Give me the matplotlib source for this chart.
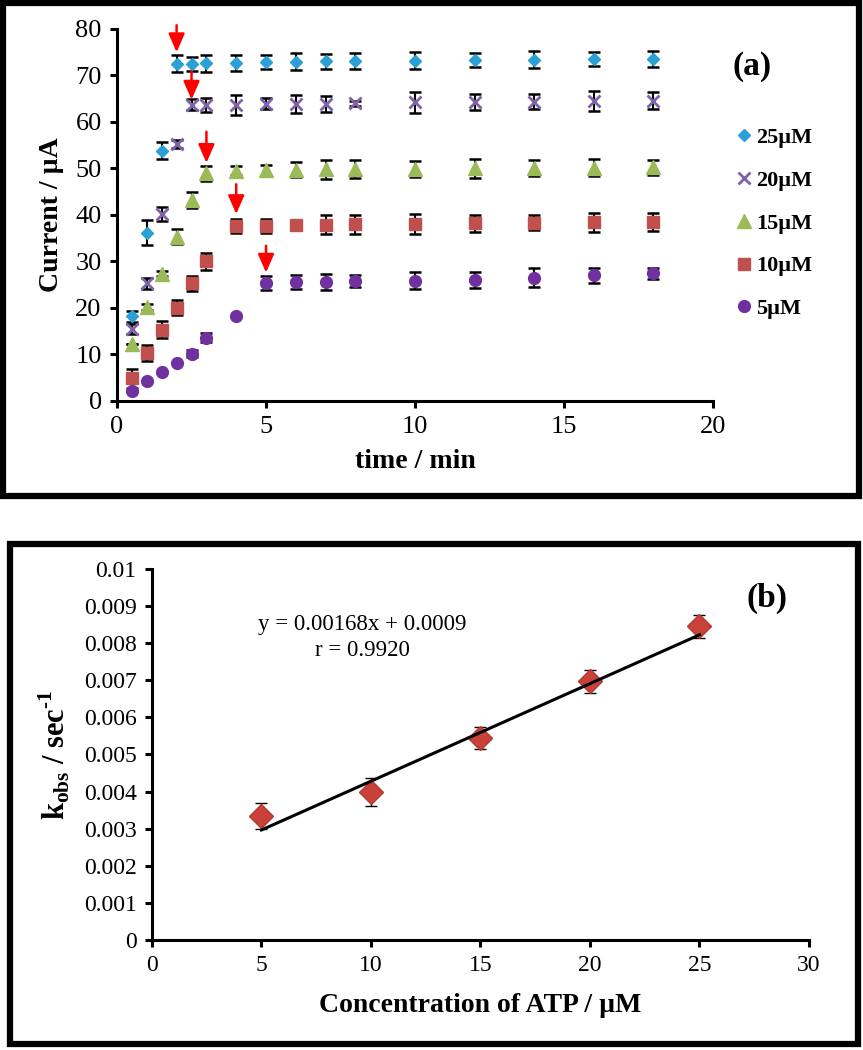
import numpy as np
import matplotlib
matplotlib.use("Agg")
import matplotlib.pyplot as plt
from matplotlib.patches import Rectangle

plt.rcParams['font.family'] = ['Liberation Serif', 'DejaVu Serif']
plt.rcParams['mathtext.fontset'] = 'custom'
plt.rcParams['mathtext.rm'] = 'Liberation Serif'
plt.rcParams['mathtext.bf'] = 'Liberation Serif:bold'

# ---- panel (a): current vs time ----
time_min = [0.5, 1, 1.5, 2, 2.5, 3, 4, 5, 6, 7, 8, 10, 12, 14, 16, 18]

cur_25 = [18.2, 36.2, 53.8, 72.5, 72.5, 72.6, 72.7, 72.9, 73.0, 73.1, 73.1, 73.2, 73.3, 73.4, 73.5, 73.6]
err_25 = [1.2, 2.7, 1.8, 1.8, 1.5, 1.8, 1.7, 1.6, 1.8, 1.6, 1.8, 1.8, 1.5, 1.8, 1.5, 1.7]

cur_20 = [15.5, 25.3, 40.2, 55.3, 63.7, 63.7, 63.7, 63.9, 63.9, 63.9, 64.0, 64.2, 64.3, 64.4, 64.5, 64.6]
err_20 = [1.0, 1.2, 1.5, 0.8, 1.2, 1.5, 2.2, 1.2, 2.0, 1.7, 0.5, 2.2, 1.8, 1.6, 2.2, 1.8]

cur_15 = [12.3, 20.2, 27.4, 35.3, 43.2, 49.0, 49.5, 49.6, 49.7, 49.8, 49.9, 49.9, 50.0, 50.1, 50.2, 50.3]
err_15 = [0.0, 0.7, 0.5, 1.6, 1.7, 1.6, 1.0, 1.2, 1.6, 2.0, 1.9, 1.7, 2.0, 1.7, 1.9, 1.6]

cur_10 = [4.9, 10.3, 15.3, 20.1, 25.3, 30.0, 37.6, 37.7, 37.8, 37.9, 38.0, 38.1, 38.2, 38.3, 38.4, 38.5]
err_10 = [2.0, 1.8, 1.8, 1.7, 1.6, 1.8, 1.5, 1.5, 0.0, 2.0, 2.0, 2.1, 1.8, 1.6, 2.1, 2.0]

cur_5 = [2.2, 4.2, 6.2, 8.2, 10.2, 13.6, 18.3, 25.4, 25.6, 25.6, 25.8, 25.9, 26.0, 26.5, 27.0, 27.5]
err_5 = [0.0, 0.0, 0.0, 0.0, 0.7, 1.0, 0.0, 1.5, 1.5, 1.7, 1.2, 1.8, 1.8, 2.0, 1.6, 1.2]

# red arrows marking the plateau onset: x, top, bottom
arrow_x = [2, 2.5, 3, 4, 5]
arrow_top = [80.8, 70.9, 57.9, 46.6, 33.4]
arrow_bot = [75.0, 64.8, 51.2, 40.2, 27.6]

# ---- panel (b): k_obs vs concentration ----
conc = [5, 10, 15, 20, 25]
kobs = [0.00333, 0.00399, 0.00545, 0.00697, 0.00845]
kobs_err = [0.00035, 0.00037, 0.00030, 0.00032, 0.00031]
fit_slope = 0.000263
fit_intercept = 0.00165

fig = plt.figure(figsize=(8.63, 10.5), dpi=100)

# panel frames
fig.patches.append(Rectangle((0.004, 0.528), 0.991, 0.469, transform=fig.transFigure,
                             fill=False, lw=4.5, ec='black'))
fig.patches.append(Rectangle((0.012, 0.006), 0.982, 0.476, transform=fig.transFigure,
                             fill=False, lw=4.5, ec='black'))


def style_axes(ax, size):
    for s in ['top', 'right']:
        ax.spines[s].set_visible(False)
    for s in ['left', 'bottom']:
        ax.spines[s].set_linewidth(2.2)
    ax.tick_params(direction='out', length=5, width=2.2, labelsize=size, pad=6)


# ---------- (a) ----------
ax1 = fig.add_axes([0.1356, 0.6181, 0.6906, 0.3543])
series = [
    ('25µM', cur_25, err_25, 'D', '#2AA0D6', 6.5),
    ('20µM', cur_20, err_20, 'x', '#7E63A9', 9),
    ('15µM', cur_15, err_15, '^', '#9BBB59', 10),
    ('10µM', cur_10, err_10, 's', '#C0504D', 8.5),
    ('5µM', cur_5, err_5, 'o', '#7030A0', 8.5),
]
for label, y, e, m, c, ms in series:
    ax1.errorbar(time_min, y, yerr=e, fmt='none', ecolor='black', elinewidth=1.5,
                 capsize=4, capthick=1.8, zorder=2)
    if m == 'x':
        ax1.plot(time_min, y, ls='none', marker=m, ms=ms, mew=2, color=c, label=label, zorder=3)
    else:
        ax1.plot(time_min, y, ls='none', marker=m, ms=ms, color=c, mec=c, label=label, zorder=3)

for x, yt, yb in zip(arrow_x, arrow_top, arrow_bot):
    ax1.annotate('', xy=(x, yb), xytext=(x, yt), annotation_clip=False,
                 arrowprops=dict(arrowstyle='-|>,head_length=0.8,head_width=0.35',
                                 color='#FF0000', lw=1.8, shrinkA=0, shrinkB=0,
                                 mutation_scale=14))

ax1.set_xlim(0, 20)
ax1.set_ylim(0, 80)
ax1.set_xticks([0, 5, 10, 15, 20])
ax1.set_yticks(range(0, 81, 10))
style_axes(ax1, 19)
ax1.set_xlabel('time / min', fontsize=20, fontweight='bold', labelpad=8)
ax1.set_ylabel('Current / µA', fontsize=20, fontweight='bold', labelpad=8)
ax1.text(1.065, 0.9, '(a)', transform=ax1.transAxes, fontsize=24, fontweight='bold',
         ha='center', va='center')
ax1.legend(loc='upper left', bbox_to_anchor=(1.02, 0.765), frameon=False,
           prop={'size': 16, 'weight': 'bold'}, handlelength=0.7, handletextpad=0.2,
           labelspacing=1.0, borderpad=0)

# ---------- (b) ----------
ax2 = fig.add_axes([0.1761, 0.1048, 0.7613, 0.3533])
ax2.errorbar(conc, kobs, yerr=kobs_err, fmt='none', ecolor='black', elinewidth=1,
             capsize=4, capthick=1, zorder=2)
ax2.plot(conc, kobs, ls='none', marker='D', ms=12, color='#C8423A', mec='#B23A32', zorder=3)
fit_x = np.array([conc[0], conc[-1]])
ax2.plot(fit_x, fit_slope * fit_x + fit_intercept, color='black', lw=2.2, zorder=4)

ax2.set_xlim(0, 30)
ax2.set_ylim(0, 0.01)
ax2.set_xticks(range(0, 31, 5))
ax2.set_yticks(np.arange(0, 0.0101, 0.001))
ax2.set_yticklabels(['0'] + ['%g' % v for v in np.arange(0.001, 0.0101, 0.001).round(3)])
style_axes(ax2, 17)
ax2.set_xlabel('Concentration of ATP / µM', fontsize=20, fontweight='bold', labelpad=12)
ax2.set_ylabel(r'$\mathbf{k_{obs}}$ / sec$^{\mathbf{\text{-}1}}$', fontsize=22,
               fontweight='bold', labelpad=8)
ax2.text(9.6, 0.0085, 'y = 0.00168x + 0.0009', fontsize=16.5, ha='center', va='center')
ax2.text(9.6, 0.0078, 'r = 0.9920', fontsize=16.5, ha='center', va='center')
ax2.text(28.1, 0.0092, '(b)', fontsize=24, fontweight='bold', ha='center', va='center')

fig.savefig('out.png', dpi=100)
